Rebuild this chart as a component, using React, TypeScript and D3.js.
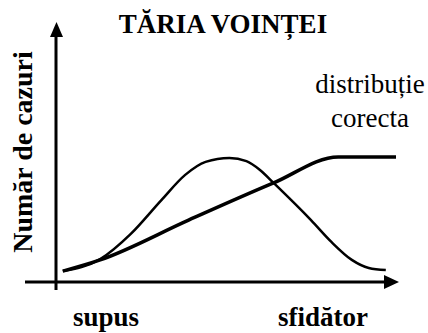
import React from "react";
import * as d3 from "d3";

// strength of will (0 = supus, 100 = sfidator) vs number of cases
const bellX = [2, 13, 22, 31, 38, 44, 51, 56, 60, 64, 75, 81, 87, 92, 97];
const bellY = [4.2, 8.8, 18.5, 31.5, 41.2, 46.2, 47.7, 46.5, 43.1, 38.1, 23.8, 15.4, 8.5, 5.4, 4.6];

const lineX = [2, 13, 39, 64, 83, 100];
const lineY = [4.2, 8.5, 23.8, 38.1, 48.1, 48.1];

const title = "TĂRIA VOINȚEI";
const yLabel = "Număr de cazuri";
const xLabels = ["supus", "sfidător"];
const legendLines = ["distribuție", "corecta"];

const width = 428;
const height = 333;
const font = "Liberation Serif";

export default function App() {
  const x = d3.scaleLinear().domain([0, 100]).range([56, 396]);
  const y = d3.scaleLinear().domain([0, 100]).range([282, 22]);

  const bellPath = d3
    .line<number>()
    .x((d, i) => x(bellX[i]))
    .y((d) => y(d))
    .curve(d3.curveMonotoneX)(bellY);

  const linePath = d3
    .line<number>()
    .x((d, i) => x(lineX[i]))
    .y((d) => y(d))
    .curve(d3.curveMonotoneX)(lineY);

  const x0 = x(0);
  const xEnd = x(100);
  const y0 = y(0);
  const yTop = y(100);

  return (
    <svg
      width={width}
      height={height}
      style={{ position: "absolute", left: 0, top: 0, background: "#fff" }}
    >
      {/* axes with arrow heads */}
      <line x1={25} x2={xEnd - 10} y1={y0} y2={y0} stroke="#000" strokeWidth={3} />
      <line x1={x0} x2={x0} y1={290} y2={yTop + 10} stroke="#000" strokeWidth={3} />
      <path d={`M${xEnd + 3},${y0} L${xEnd - 12},${y0 - 7} L${xEnd - 12},${y0 + 7} Z`} fill="#000" />
      <path d={`M${x0 + 0.5},${yTop} L${x0 - 6},${yTop + 15} L${x0 + 7},${yTop + 15} Z`} fill="#000" />

      <path d={bellPath ?? ""} fill="none" stroke="#000" strokeWidth={2.5} />
      <path d={linePath ?? ""} fill="none" stroke="#000" strokeWidth={3.5} />

      <text x={223} y={33} textAnchor="middle" fontFamily={font} fontWeight="bold" fontSize={27}>
        {title}
      </text>
      <text
        transform="translate(32,152) rotate(-90)"
        textAnchor="middle"
        fontFamily={font}
        fontWeight="bold"
        fontSize={28}
      >
        {yLabel}
      </text>
      {xLabels.map((d, i) => (
        <text
          key={d}
          x={i === 0 ? 106 : 323}
          y={326}
          textAnchor="middle"
          fontFamily={font}
          fontWeight="bold"
          fontSize={27}
        >
          {d}
        </text>
      ))}
      {legendLines.map((d, i) => (
        <text key={d} x={370} y={93 + i * 34} textAnchor="middle" fontFamily={font} fontSize={27}>
          {d}
        </text>
      ))}
    </svg>
  );
}
